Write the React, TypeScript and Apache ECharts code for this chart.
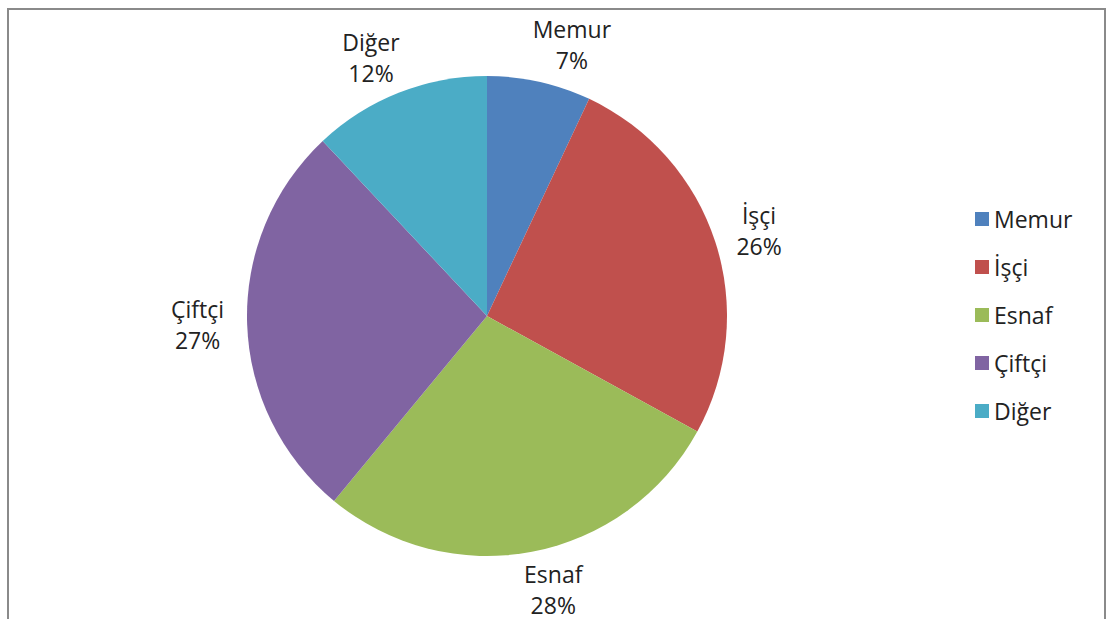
import React, { useEffect, useRef } from "react";
import * as echarts from "echarts";

const categories = ["Memur", "İşçi", "Esnaf", "Çiftçi", "Diğer"];
const percents = [7, 26, 28, 27, 12];
const colors = ["#4F81BD", "#C0504D", "#9BBB59", "#8064A2", "#4BACC6"];

const FONT = "'Open Sans', 'DejaVu Sans', sans-serif";

export default function App() {
  const ref = useRef<HTMLDivElement>(null);
  useEffect(() => {
    if (!ref.current) return;
    const chart = echarts.init(ref.current, undefined, { renderer: "svg" });
    const data = categories.map((name, i) => ({
      name,
      value: percents[i],
      itemStyle: { color: colors[i] },
    }));
    chart.setOption({
      animation: false,
      backgroundColor: "#ffffff",
      graphic: [
        {
          type: "rect",
          shape: { x: 8, y: 9, width: 1097, height: 700 },
          style: { fill: "none", stroke: "#8a8a8a", lineWidth: 2 },
          silent: true,
        },
      ],
      legend: {
        orient: "vertical",
        left: 970,
        top: 202,
        itemWidth: 14,
        itemHeight: 14,
        itemGap: 24,
        icon: "rect",
        data: categories,
        textStyle: {
          fontSize: 23,
          fontFamily: FONT,
          color: "#222",
          lineHeight: 24,
        },
      },
      series: [
        {
          type: "pie",
          center: [487, 316],
          radius: 240,
          startAngle: 90,
          clockwise: true,
          avoidLabelOverlap: false,
          data,
          label: {
            show: true,
            position: "outside",
            formatter: "{b}\n{c}%",
            fontSize: 23,
            lineHeight: 31,
            fontFamily: FONT,
            color: "#222",
            distanceToLabelLine: 0,
          },
          labelLine: { show: false, length: 38, length2: 0 },
          labelLayout: (p: any) => {
            const r = p.labelRect;
            const shift = p.align === "left" ? -15 : p.align === "right" ? 15 : 0;
            return {
              x: r.x + r.width / 2 + shift,
              y: r.y + r.height / 2,
              align: "center",
              verticalAlign: "middle",
            };
          },
          emphasis: { disabled: true },
        },
      ],
    });
    return () => chart.dispose();
  }, []);
  return (
    <div
      ref={ref}
      style={{ position: "fixed", left: 0, top: 0, width: 1110, height: 619 }}
    />
  );
}
